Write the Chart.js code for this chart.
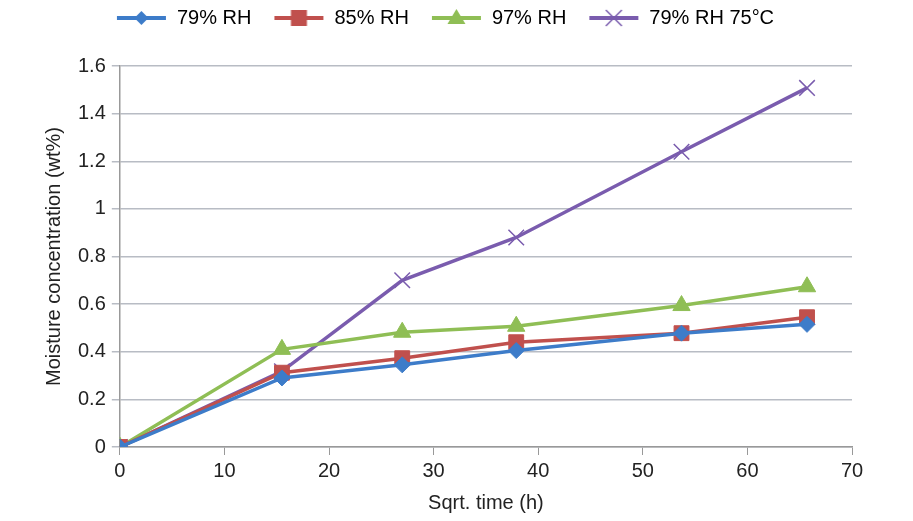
<!DOCTYPE html>
<html>
<head>
<meta charset="utf-8">
<script src="https://cdn.jsdelivr.net/npm/chart.js@4"></script>
<style>
  html, body { margin: 0; padding: 0; background: #fff; }
  #wrap { width: 913px; height: 521px; }
</style>
</head>
<body>
<div id="wrap"><canvas id="moistureChart"></canvas></div>
<script>
// Sqrt. time (h) for each measurement
const sqrtTime = [0, 15.5, 27, 37.9, 53.7, 65.7];

// Moisture concentration (wt%)
const rh79 = [0, 0.29, 0.345, 0.405, 0.478, 0.515];
const rh85 = [0, 0.312, 0.373, 0.44, 0.478, 0.545];
const rh97 = [0, 0.41, 0.482, 0.507, 0.594, 0.673];
const rh79t75 = [0, 0.318, 0.70, 0.88, 1.24, 1.508];

const seriesNames = ["79% RH", "85% RH", "97% RH", "79% RH 75°C"];
const xTicks = [0, 10, 20, 30, 40, 50, 60, 70];
const yTicks = [0, 0.2, 0.4, 0.6, 0.8, 1, 1.2, 1.4, 1.6];

const colors = ["#3d7cc9", "#c0504d", "#8fbe55", "#7a5cae"];
const markers = ["rectRot", "rect", "triangle", "crossRot"];
const radii = [8, 10.5, 10, 11];

function toPoints(ys) {
  return sqrtTime.map((x, i) => ({ x: x, y: ys[i] }));
}

// little line+marker images for the legend
function legendIcon(color, marker) {
  const c = document.createElement("canvas");
  c.width = 51; c.height = 22;
  const ctx = c.getContext("2d");
  ctx.strokeStyle = color;
  ctx.fillStyle = color;
  ctx.lineWidth = 4;
  ctx.beginPath();
  ctx.moveTo(1, 11); ctx.lineTo(50, 11);
  ctx.stroke();
  const cx = 25.5, cy = 11;
  ctx.beginPath();
  if (marker === "rectRot") {
    ctx.moveTo(cx, cy - 7); ctx.lineTo(cx + 7, cy); ctx.lineTo(cx, cy + 7); ctx.lineTo(cx - 7, cy);
    ctx.closePath(); ctx.fill();
  } else if (marker === "rect") {
    ctx.rect(cx - 8, cy - 8, 16, 16); ctx.fill();
  } else if (marker === "triangle") {
    ctx.moveTo(cx, cy - 9); ctx.lineTo(cx + 9, cy + 6); ctx.lineTo(cx - 9, cy + 6);
    ctx.closePath(); ctx.fill();
  } else {
    ctx.lineWidth = 1.5;
    ctx.moveTo(cx - 8, cy - 8); ctx.lineTo(cx + 8, cy + 8);
    ctx.moveTo(cx + 8, cy - 8); ctx.lineTo(cx - 8, cy + 8);
    ctx.stroke();
  }
  return c;
}

const allSeries = [rh79, rh85, rh97, rh79t75];
const icons = colors.map((c, i) => legendIcon(c, markers[i]));

const datasets = allSeries.map((ys, i) => ({
  label: seriesNames[i],
  data: toPoints(ys),
  borderColor: colors[i],
  backgroundColor: colors[i],
  borderWidth: 3.5,
  pointStyle: markers[i],
  pointRadius: radii[i],
  pointBorderWidth: i === 3 ? 1.5 : 1,
  pointBorderColor: colors[i],
  pointBackgroundColor: colors[i],
  tension: 0
}));

// push the plot down a bit below the legend, like the original
const legendGap = {
  id: "legendGap",
  beforeLayout(chart) {
    const lg = chart.legend;
    if (lg && !lg._gapWrapped) {
      const fit = lg.fit;
      lg.fit = function () { fit.call(this); this.height += 28; };
      lg._gapWrapped = true;
    }
  }
};

Chart.defaults.font.family = "'Liberation Sans', Arial, sans-serif";
Chart.defaults.color = "#222";

new Chart(document.getElementById("moistureChart"), {
  type: "line",
  data: { datasets },
  options: {
    responsive: true,
    maintainAspectRatio: false,
    animation: false,
    layout: { padding: { left: 38, right: 61, top: -14, bottom: 2 } },
    plugins: {
      tooltip: { enabled: false },
      legend: {
        position: "top",
        labels: {
          usePointStyle: true,
          pointStyleWidth: 51,
          font: { size: 20 },
          padding: 22,
          generateLabels: chart => chart.data.datasets.map((ds, i) => ({
            text: ds.label,
            pointStyle: icons[i],
            fillStyle: ds.borderColor,
            strokeStyle: ds.borderColor,
            lineWidth: 0,
            hidden: false,
            datasetIndex: i
          }))
        }
      }
    },
    scales: {
      x: {
        type: "linear",
        min: 0,
        max: 70,
        afterBuildTicks: axis => { axis.ticks = xTicks.map(v => ({ value: v })); },
        grid: { drawOnChartArea: false, drawTicks: true, tickLength: 8, color: "#999" },
        border: { color: "#999", width: 1.5 },
        ticks: { font: { size: 20 }, padding: 4 },
        title: { display: true, text: "Sqrt. time (h)", font: { size: 20 }, padding: { top: 4 } }
      },
      y: {
        min: 0,
        max: 1.6,
        afterBuildTicks: axis => { axis.ticks = yTicks.map(v => ({ value: v })); },
        grid: { color: "#b8bcc4", lineWidth: 1.5, tickLength: 8 },
        border: { color: "#999", width: 1.5 },
        ticks: { font: { size: 20 }, padding: 6, callback: v => String(v) },
        title: { display: true, text: "Moisture concentration (wt%)", font: { size: 20 }, padding: { bottom: 6 } }
      }
    }
  },
  plugins: [legendGap]
});
</script>
</body>
</html>
